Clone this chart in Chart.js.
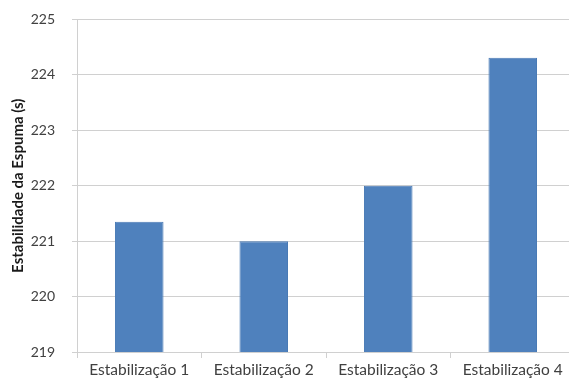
<!DOCTYPE html>
<html>
<head>
<meta charset="utf-8">
<script src="https://cdn.jsdelivr.net/npm/chart.js@4/dist/chart.umd.min.js"></script>
<style>
  html, body { margin: 0; padding: 0; background: #fff; overflow: hidden; }
  #wrap { position: relative; width: 577px; height: 385px; overflow: hidden; }
  #c { position: absolute; left: 0; top: -6px; }
</style>
</head>
<body>
<div id="wrap"><canvas id="c" width="577" height="391"></canvas></div>
<script>
// Foam stability per stabilization run (seconds)
const categories = ['Estabilização 1', 'Estabilização 2', 'Estabilização 3', 'Estabilização 4'];
const stability = [221.35, 221.0, 222.0, 224.31];
const yTicks = [219, 220, 221, 222, 223, 224, 225];

const gridGray = '#d0d0d0';
const textGray = '#404040';

new Chart(document.getElementById('c'), {
  type: 'bar',
  data: {
    labels: categories,
    datasets: [{
      data: stability,
      backgroundColor: '#4f81bd',
      borderColor: '#4a7ab5',
      borderWidth: 1,
      barPercentage: 0.39,
      categoryPercentage: 1.0
    }]
  },
  options: {
    responsive: false,
    animation: false,
    devicePixelRatio: 1,
    layout: { autoPadding: false, padding: { top: 14, left: 0, right: 2, bottom: 4 } },
    plugins: { legend: { display: false }, tooltip: { enabled: false } },
    scales: {
      x: {
        grid: { display: true, drawOnChartArea: false, drawTicks: true, tickLength: 6, color: gridGray, offset: true },
        border: { display: true, color: gridGray, width: 1 },
        ticks: { color: textGray, font: { family: 'Lato', size: 15.5 }, padding: 3, maxRotation: 0, autoSkip: false },
        afterFit: (axis) => { axis.height = 29; }
      },
      y: {
        min: 219,
        max: 225,
        afterBuildTicks: (axis) => { axis.ticks = yTicks.map(v => ({ value: v })); },
        afterFit: (axis) => { axis.width = 77; },
        grid: { color: gridGray, lineWidth: 1, tickLength: 5 },
        border: { display: true, color: gridGray, width: 1 },
        ticks: { color: textGray, font: { family: 'Lato', size: 14 }, padding: 17 },
        title: {
          display: true,
          text: 'Estabilidade da Espuma (s)',
          color: '#1a1a1a',
          font: { family: 'Lato', size: 15, weight: 'bold' },
          padding: { top: 9, bottom: 4 }
        }
      }
    }
  }
});
</script>
</body>
</html>
